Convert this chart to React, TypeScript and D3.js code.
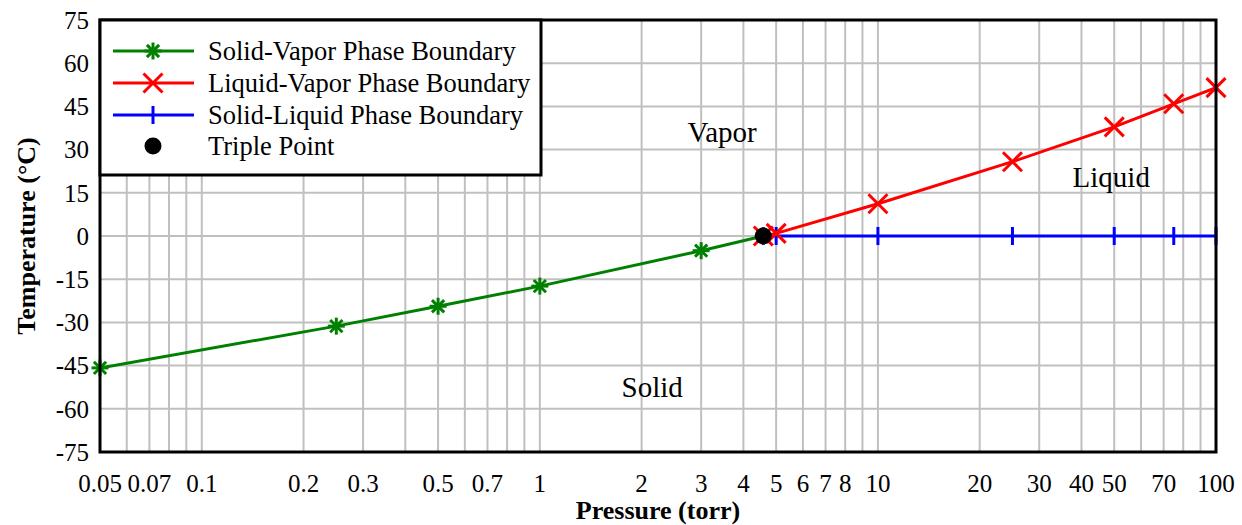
import React from "react";
import * as d3 from "d3";

// Phase boundaries of water near the triple point (pressure in torr, temperature in °C)
const solidVaporP = [0.05, 0.25, 0.5, 1, 3, 4.58];
const solidVaporT = [-45.8, -31.3, -24.4, -17.4, -5.1, 0.01];

const liquidVaporP = [4.58, 5, 10, 25, 50, 75, 100];
const liquidVaporT = [0.01, 0.9, 11.2, 25.8, 37.9, 45.9, 51.5];

const solidLiquidP = [4.58, 5, 10, 25, 50, 75, 100];
const solidLiquidT = [0.01, 0, 0, 0, 0, 0, 0];

const triplePointP = [4.58];
const triplePointT = [0.01];

const xTickLabels = [0.05, 0.07, 0.1, 0.2, 0.3, 0.5, 0.7, 1, 2, 3, 4, 5, 6, 7, 8, 10, 20, 30, 40, 50, 70, 100];
const yTicks = [75, 60, 45, 30, 15, 0, -15, -30, -45, -60, -75];

const legendLabels = [
  "Solid-Vapor Phase Boundary",
  "Liquid-Vapor Phase Boundary",
  "Solid-Liquid Phase Boundary",
  "Triple Point",
];

const regionNames = ["Vapor", "Liquid", "Solid"];
const regionP = [3.46, 49, 2.15];
const regionT = [36, 20.5, -52.5];

const W = 1242;
const H = 525;
const left = 100;
const right = 1216;
const top = 20;
const bottom = 452;

const FONT = "'Liberation Serif', 'Times New Roman', serif";
const GREEN = "#008000";
const RED = "#ff0000";
const BLUE = "#0000ff";

const x = d3.scaleLog().domain([0.05, 100]).range([left, right]);
const y = d3.scaleLinear().domain([-75, 75]).range([bottom, top]);

// vertical grid at every 1-9 multiple of each decade
const gridX: number[] = [];
[0.01, 0.1, 1, 10].forEach((dec) => {
  for (let m = 1; m <= 9; m++) {
    const v = +(dec * m).toPrecision(3);
    if (v >= 0.05 && v <= 100) gridX.push(v);
  }
});
gridX.push(100);

const toPts = (ps: number[], ts: number[]) => ps.map((p, i) => [x(p), y(ts[i])] as [number, number]);
const line = d3.line<[number, number]>();

function Star({ cx, cy, color }: { cx: number; cy: number; color: string }) {
  const r = 8.5;
  const d = r * 0.72;
  return (
    <g stroke={color} strokeWidth={3}>
      <line x1={cx} y1={cy - r} x2={cx} y2={cy + r} />
      <line x1={cx - r} y1={cy} x2={cx + r} y2={cy} />
      <line x1={cx - d} y1={cy - d} x2={cx + d} y2={cy + d} />
      <line x1={cx - d} y1={cy + d} x2={cx + d} y2={cy - d} />
    </g>
  );
}

function Cross({ cx, cy, color }: { cx: number; cy: number; color: string }) {
  const r = 9.5;
  return (
    <g stroke={color} strokeWidth={3}>
      <line x1={cx - r} y1={cy - r} x2={cx + r} y2={cy + r} />
      <line x1={cx - r} y1={cy + r} x2={cx + r} y2={cy - r} />
    </g>
  );
}

function VTick({ cx, cy, color }: { cx: number; cy: number; color: string }) {
  const r = 9;
  return <line x1={cx} y1={cy - r} x2={cx} y2={cy + r} stroke={color} strokeWidth={3} />;
}

export default function App() {
  const sv = toPts(solidVaporP, solidVaporT);
  const lv = toPts(liquidVaporP, liquidVaporT);
  const sl = toPts(solidLiquidP, solidLiquidT);
  const tp = toPts(triplePointP, triplePointT);

  const legendY = [51, 83, 115, 146];
  const lgX0 = 113;
  const lgX1 = 194;
  const lgXm = 153;

  return (
    <svg width={W} height={H} style={{ display: "block", position: "absolute", left: 0, top: 0, background: "#fff" }}>
      <rect x={0} y={0} width={W} height={H} fill="#fff" />
      <defs>
        <clipPath id="plotClip">
          <rect x={left} y={top} width={right - left} height={bottom - top} />
        </clipPath>
      </defs>

      {/* grid */}
      <g stroke="#c0c0c0" strokeWidth={2}>
        {gridX.map((v) => (
          <line key={"gx" + v} x1={x(v)} x2={x(v)} y1={top} y2={bottom} />
        ))}
        {yTicks.map((v) => (
          <line key={"gy" + v} x1={left} x2={right} y1={y(v)} y2={y(v)} />
        ))}
      </g>

      {/* region names */}
      <g fontFamily={FONT} fontSize={29} textAnchor="middle" fill="#000">
        {regionNames.map((n, i) => (
          <text key={n} x={x(regionP[i])} y={y(regionT[i])} dy="0.35em">
            {n}
          </text>
        ))}
      </g>

      {/* boundaries */}
      <g clipPath="url(#plotClip)" fill="none">
        <path d={line(sv) ?? ""} stroke={GREEN} strokeWidth={3} />
        <path d={line(sl) ?? ""} stroke={BLUE} strokeWidth={3} />
        <path d={line(lv) ?? ""} stroke={RED} strokeWidth={3} />
      </g>
      {sl.map(([cx, cy], i) => (
        <VTick key={"sl" + i} cx={cx} cy={cy} color={BLUE} />
      ))}
      {sv.map(([cx, cy], i) => (
        <Star key={"sv" + i} cx={cx} cy={cy} color={GREEN} />
      ))}
      {lv.map(([cx, cy], i) => (
        <Cross key={"lv" + i} cx={cx} cy={cy} color={RED} />
      ))}
      {tp.map(([cx, cy], i) => (
        <circle key={"tp" + i} cx={cx} cy={cy} r={8.5} fill="#000" />
      ))}

      {/* frame */}
      <rect x={left} y={top} width={right - left} height={bottom - top} fill="none" stroke="#000" strokeWidth={3} />

      {/* legend */}
      <rect x={left} y={top} width={541 - left} height={175 - top} fill="#fff" stroke="#000" strokeWidth={3} />
      <g fontFamily={FONT} fontSize={26.5} fill="#000">
        <line x1={lgX0} x2={lgX1} y1={legendY[0]} y2={legendY[0]} stroke={GREEN} strokeWidth={3} />
        <Star cx={lgXm} cy={legendY[0]} color={GREEN} />
        <line x1={lgX0} x2={lgX1} y1={legendY[1]} y2={legendY[1]} stroke={RED} strokeWidth={3} />
        <Cross cx={lgXm} cy={legendY[1]} color={RED} />
        <line x1={lgX0} x2={lgX1} y1={legendY[2]} y2={legendY[2]} stroke={BLUE} strokeWidth={3} />
        <VTick cx={lgXm} cy={legendY[2]} color={BLUE} />
        <circle cx={lgXm} cy={legendY[3]} r={8.5} fill="#000" />
        {legendLabels.map((t, i) => (
          <text key={t} x={208} y={legendY[i]} dy="0.33em">
            {t}
          </text>
        ))}
      </g>

      {/* y tick labels */}
      <g fontFamily={FONT} fontSize={25} fill="#000" textAnchor="end">
        {yTicks.map((v) => (
          <text key={"yt" + v} x={89} y={y(v)} dy="0.35em">
            {v}
          </text>
        ))}
      </g>

      {/* x tick labels */}
      <g fontFamily={FONT} fontSize={25} fill="#000" textAnchor="middle">
        {xTickLabels.map((v) => (
          <text key={"xt" + v} x={x(v)} y={483} dy="0.35em">
            {v}
          </text>
        ))}
      </g>

      {/* axis titles */}
      <text x={(left + right) / 2} y={519} textAnchor="middle" fontFamily={FONT} fontSize={26} fontWeight="bold">
        Pressure (torr)
      </text>
      <text
        transform={`translate(26, ${(top + bottom) / 2}) rotate(-90)`}
        dy="0.35em"
        textAnchor="middle"
        fontFamily={FONT}
        fontSize={26}
        fontWeight="bold"
      >
        Temperature (°C)
      </text>
    </svg>
  );
}
